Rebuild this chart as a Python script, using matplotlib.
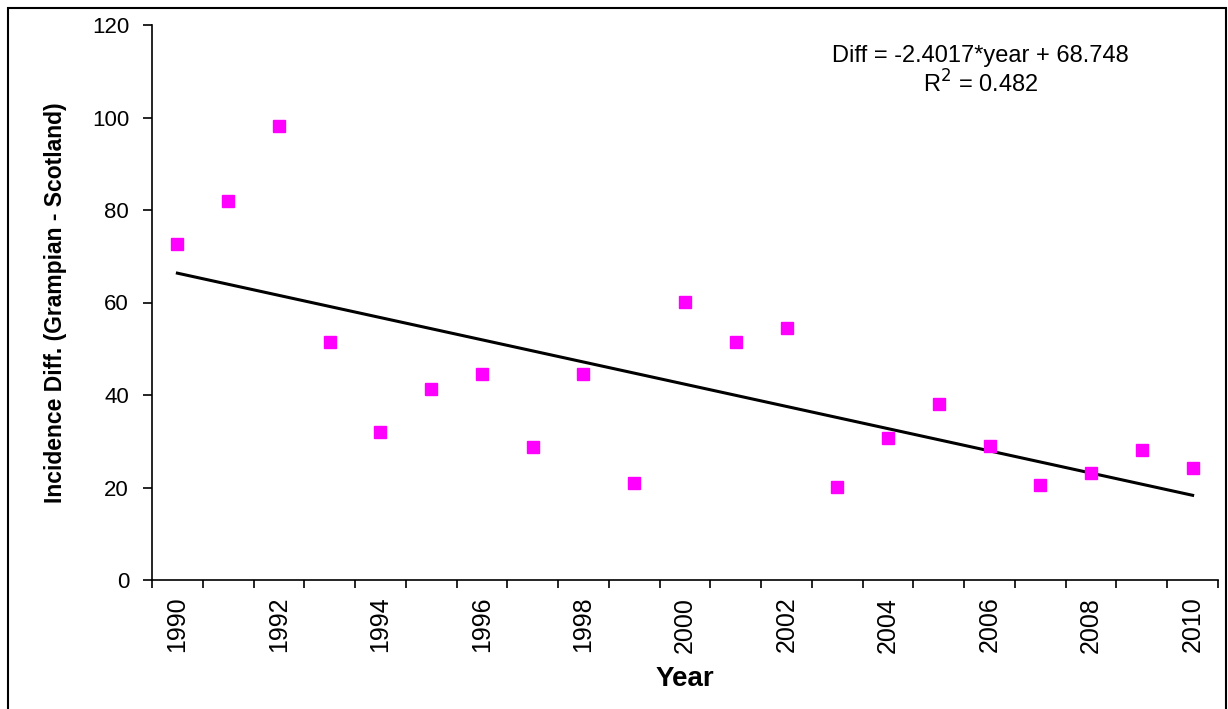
import matplotlib.pyplot as plt
import numpy as np
from matplotlib.patches import Rectangle

plt.rcParams['font.family'] = ['Liberation Sans', 'DejaVu Sans']

years = list(range(1990, 2011))
diff = [72.6, 81.9, 98.2, 51.5, 32.0, 41.3, 44.5, 28.8, 44.5, 21.0, 60.1,
        51.5, 54.5, 20.1, 30.7, 38.1, 29.0, 20.5, 23.1, 28.1, 24.2]
slope = -2.4017
intercept = 68.748
r2 = 0.482

fig = plt.figure(figsize=(12.28, 7.09), dpi=100)
ax = fig.add_axes([152/1228, 1-580/709, (1218-152)/1228, (580-25)/709])

x = np.arange(1, len(years) + 1)
ax.plot(x, diff, 's', color='#FF00FF', ms=8.5, mec='#FF00FF', zorder=3)
trend = slope * x + intercept
ax.plot(x, trend, color='black', lw=2.2, zorder=2)

ax.set_xlim(0.5, len(years) + 0.5)
ax.set_ylim(0, 120)
ax.set_yticks(range(0, 121, 20))
ax.set_xticks(np.arange(0.5, len(years) + 1, 1))
ax.set_xticklabels([])
ax.set_xticks(x[::2], minor=True)
ax.set_xticklabels([str(y) for y in years[::2]], minor=True, rotation=90, fontsize=18)
ax.tick_params(axis='x', which='minor', length=0, pad=12)
ax.tick_params(axis='x', which='major', direction='out', length=6, width=1.2)
ax.tick_params(axis='y', direction='out', length=6.5, width=1.2, labelsize=16, pad=10)

for s in ['top', 'right']:
    ax.spines[s].set_visible(False)
for s in ['left', 'bottom']:
    ax.spines[s].set_linewidth(1.2)

ax.set_ylabel('Incidence Diff. (Grampian - Scotland)', fontsize=16.5, fontweight='bold', labelpad=18)
ax.set_xlabel('Year', fontsize=20, fontweight='bold', labelpad=10)

ax.text(0.777, 0.944, 'Diff = %.4f*year + %.3f' % (slope, intercept), transform=ax.transAxes,
        ha='center', va='center', fontsize=17)
ax.text(0.777, 0.894, 'R$^2$ = %.3f' % r2, transform=ax.transAxes,
        ha='center', va='center', fontsize=17)

fig.patches.append(Rectangle((8/1228, -0.01), (1226-8)/1228, 1.01 - 8/709, transform=fig.transFigure,
                             fill=False, edgecolor='black', lw=1.5))

fig.savefig('out.png', dpi=100)
